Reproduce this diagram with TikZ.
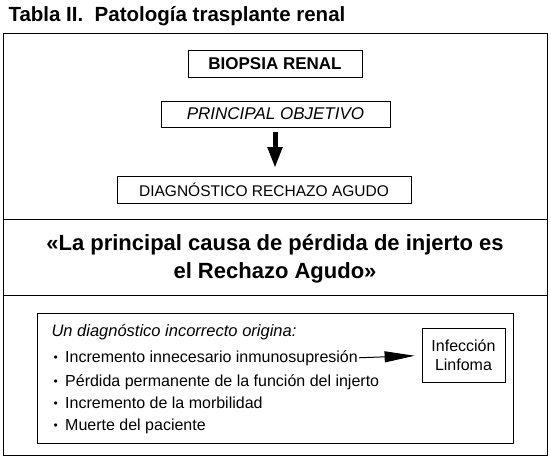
\documentclass[tikz,border=0pt]{standalone}
\usepackage{fontspec}
\setmainfont{Liberation Sans}
\usetikzlibrary{arrows.meta}
\begin{document}
\begin{tikzpicture}[x=1pt,y=-1pt,font=\fontsize{16}{19}\selectfont,
    caja/.style={draw,line width=0.8pt,inner sep=0pt}]
                \useasboundingbox (0,0) rectangle (551,461);
                \node[anchor=base west,font=\fontsize{20.5}{24}\selectfont\bfseries] (titulo) at (5,21) {Tabla II.\ \ Patología trasplante renal};
                \draw[line width=0.8pt] (3,33) rectangle (547,455);
                \draw[line width=0.8pt] (3,219) -- (547,219) (3,295) -- (547,295);
                \node[caja,minimum width=174pt,minimum height=27pt,font=\fontsize{17}{20}\selectfont\bfseries] (biopsia) at (275,63.5) {BIOPSIA RENAL};
                \node[caja,minimum width=229pt,minimum height=26pt,font=\fontsize{17}{20}\selectfont\itshape] (objetivo) at (275.5,114) {PRINCIPAL OBJETIVO};
                \node[caja,minimum width=294pt,minimum height=27pt,font=\fontsize{15.5}{18}\selectfont] (diagnostico) at (264,189.5) {DIAGNÓSTICO RECHAZO AGUDO};
                \draw[-{Triangle[length=21pt,width=14pt]},line width=5pt] (275,132) -- (275,168);
                \node[align=center,font=\fontsize{22}{28}\selectfont\bfseries] (causa) at (275,259) {«La principal causa de pérdida de injerto es\\el Rechazo Agudo»};
                \draw[line width=0.8pt] (37,313) rectangle (513,443);
                \node[anchor=base west,font=\fontsize{16.5}{19}\selectfont\itshape] (origina) at (48,336) {Un diagnóstico incorrecto origina:};
                \foreach \y/\texto [count=\i] in {362/Incremento innecesario inmunosupresión,
                    386/Pérdida permanente de la función del injerto,
                    408/Incremento de la morbilidad,
                    430/Muerte del paciente} {
                    \node[anchor=base west,font=\fontsize{8}{9}\selectfont] at (50,\y) {\raisebox{2.5pt}{$\bullet$}};
                    \node[anchor=base west,inner sep=1pt] (linea\i) at (64,\y) {\texto};
                }
                \node[caja,minimum width=83pt,minimum height=54pt,align=center] (infeccion) at (463.5,355.5) {Infección\\Linfoma};
                \draw[-{Triangle[length=30pt,width=11pt]},line width=1pt,shorten >=7pt] (linea1.east) -- (infeccion.west);
            \end{tikzpicture}
\end{document}
